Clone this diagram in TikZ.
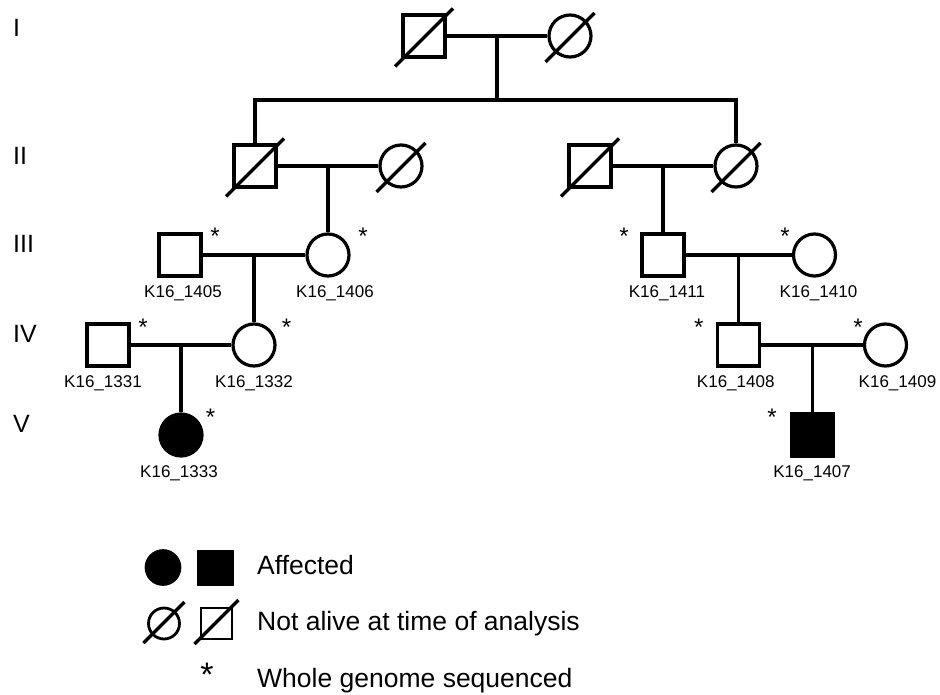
\documentclass[tikz,border=0pt]{standalone}
\usepackage{fontspec}
\setmainfont{Liberation Sans}
\usepackage{tikz}
\usetikzlibrary{positioning,calc}
\tikzset{
  male/.style={draw, rectangle, line width=3.2pt, minimum size=42pt, inner sep=0pt},
  female/.style={draw, circle, line width=3.2pt, minimum size=42pt, inner sep=0pt},
  affected/.style={fill=black},
  link/.style={line width=3.2pt},
  slash/.style={line width=3.2pt},
  idlab/.style={font=\fontsize{17}{18}\selectfont, inner sep=0pt, text height=12pt, text depth=0pt, yshift=-8pt},
  ast/.style={font=\fontsize{24}{26}\selectfont, inner sep=0pt, anchor=base},
  gen/.style={font=\fontsize{25}{28}\selectfont, inner sep=0pt, anchor=west},
  legtext/.style={font=\fontsize{26.5}{30}\selectfont, inner sep=0pt, anchor=base west},
}
% slash through a deceased individual: [vertical shift]{node}{half length}
\newcommand{\gone}[3][1.5]{\draw[slash] ([shift={(-#3,#3+#1)}]#2.center) -- ([shift={(#3,-#3+#1)}]#2.center);}
% whole genome sequenced mark: {node}{x offset}
\newcommand{\wgs}[2]{\node[ast] (#1s) at ([shift={(#2,-10)}]#1.center) {*};}

\begin{document}
\begin{tikzpicture}[x=1pt, y=-1pt]
  \useasboundingbox (0,0) rectangle (940,695);

  % generations
  \node[gen] (gI)   at (13,27.5) {I};
  \node[gen] (gII)  at (13,156)  {II};
  \node[gen] (gIII) at (13,244)  {III};
  \node[gen] (gIV)  at (13,334)  {IV};
  \node[gen] (gV)   at (13,424)  {V};

  % generation I
  \node[male]   (I1) at (424,36) {};
  \node[female] (I2) at (570,36) {};
  \gone{I1}{29}
  \gone{I2}{24.5}
  \draw[link] (I1) -- (I2);
  \coordinate (mI) at ($(I1.east)!0.5!(I2.west)$);
  \coordinate (sib) at (mI |- 0,100);

  % generation II
  \node[male]   (II1) at (255,166) {};
  \node[female] (II2) at (401,166) {};
  \node[male]   (II3) at (590,166) {};
  \node[female] (II4) at (736,166) {};
  \gone{II1}{29}
  \gone{II2}{24.5}
  \gone{II3}{29}
  \gone{II4}{24.5}
  \draw[link] (mI) -- (sib);
  \draw[link] (II1.north) -- (II1 |- sib) -- (II4 |- sib) -- (II4.north);
  \draw[link] (II1) -- (II2);
  \draw[link] (II3) -- (II4);
  \coordinate (mII1) at ($(II1.east)!0.5!(II2.west)$);
  \coordinate (mII2) at ($(II3.east)!0.5!(II4.west)$);

  % generation III
  \node[male, label={[idlab, xshift=3pt]below:K16\_1405}]   (K1405) at (180,255) {};
  \node[female, label={[idlab, xshift=7pt]below:K16\_1406}] (K1406) at (mII1 |- 0,255) {};
  \node[male, label={[idlab, xshift=4pt]below:K16\_1411}]   (K1411) at (mII2 |- 0,255) {};
  \node[female, label={[idlab, xshift=4pt]below:K16\_1410}] (K1410) at (814.5,255) {};
  \draw[link] (mII1) -- (K1406);
  \draw[link] (mII2) -- (K1411);
  \draw[link] (K1405) -- (K1406);
  \draw[link] (K1411) -- (K1410);
  \wgs{K1405}{35}
  \wgs{K1406}{35}
  \wgs{K1411}{-39}
  \wgs{K1410}{-29.5}
  \coordinate (mIII1) at ($(K1405.east)!0.5!(K1406.west)$);
  \coordinate (mIII2) at ($(K1411.east)!0.5!(K1410.west)$);

  % generation IV
  \node[male, label={[idlab, xshift=-5pt]below:K16\_1331}]   (K1331) at (108,345) {};
  \node[female, label={[idlab]below:K16\_1332}]              (K1332) at (mIII1 |- 0,345) {};
  \node[male, label={[idlab, xshift=-3pt]below:K16\_1408}]   (K1408) at (mIII2 |- 0,345) {};
  \node[female, label={[idlab, xshift=12pt]below:K16\_1409}] (K1409) at (885.5,345) {};
  \draw[link] (mIII1) -- (K1332);
  \draw[link] (mIII2) -- (K1408);
  \draw[link] (K1331) -- (K1332);
  \draw[link] (K1408) -- (K1409);
  \wgs{K1331}{35}
  \wgs{K1332}{32.5}
  \wgs{K1408}{-40}
  \wgs{K1409}{-27.5}
  \coordinate (mIV1) at ($(K1331.east)!0.5!(K1332.west)$);
  \coordinate (mIV2) at ($(K1408.east)!0.5!(K1409.west)$);

  % generation V
  \node[female, affected, label={[idlab, xshift=-2pt]below:K16\_1333}] (K1333) at (mIV1 |- 0,435) {};
  \node[male, affected, label={[idlab]below:K16\_1407}]                (K1407) at (mIV2 |- 0,435) {};
  \draw[link] (mIV1) -- (K1333);
  \draw[link] (mIV2) -- (K1407);
  \wgs{K1333}{29.5}
  \wgs{K1407}{-40}

  % legend
  \node[female, affected, minimum size=33.5pt] (lgA1) at (163,567.5) {};
  \node[male, affected, minimum size=33.5pt]   (lgA2) at (215.5,568) {};
  \node[female, line width=2.8pt, minimum size=31pt] (lgD1) at (164,623.5) {};
  \node[male, line width=2.8pt, minimum size=31pt]   (lgD2) at (216.5,623.5) {};
  \gone[-1]{lgD1}{20.5}
  \gone[-1.5]{lgD2}{22}
  \node[ast, font=\fontsize{34}{36}\selectfont] (lgS) at (207,686.5) {*};
  \node[legtext] (txA) at (257,574.5) {Affected};
  \node[legtext] (txD) at (257,630)   {Not alive at time of analysis};
  \node[legtext] (txS) at (257,687)   {Whole genome sequenced};
\end{tikzpicture}
\end{document}
